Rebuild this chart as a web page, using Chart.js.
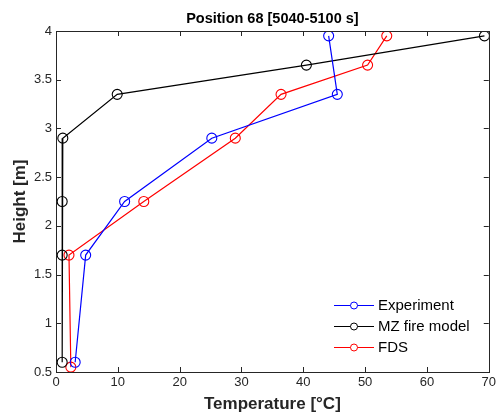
<!DOCTYPE html>
<html>
<head>
<meta charset="utf-8">
<script src="https://cdn.jsdelivr.net/npm/chart.js@4"></script>
<style>
html,body{margin:0;padding:0;background:#fff;}
#c{display:block;}
</style>
</head>
<body>
<canvas id="c" width="499" height="418"></canvas>
<script>
// 数据
var expHeight = [3.95, 3.35, 2.9, 2.25, 1.7, 0.6];
var expTemp   = [44.1, 45.5, 25.2, 11.1, 4.8, 3.1];
var mzHeight  = [3.95, 3.65, 3.35, 2.9, 2.25, 1.7, 0.6];
var mzTemp    = [69.3, 40.5, 9.9, 1.1, 1.0, 1.0, 1.0];
var fdsHeight = [3.95, 3.65, 3.35, 2.9, 2.25, 1.7, 0.55];
var fdsTemp   = [53.5, 50.4, 36.4, 29.0, 14.2, 2.1, 2.4];
var xTicks = [0, 10, 20, 30, 40, 50, 60, 70];
var yTicks = [0.5, 1, 1.5, 2, 2.5, 3, 3.5, 4];
var seriesNames = ['Experiment', 'MZ fire model', 'FDS'];
var seriesColors = ['#0000ff', '#000000', '#ff0000'];

function pts(xs, ys){ return xs.map(function(x,i){ return {x:x, y:ys[i]}; }); }

var AX = '#262626';
var FONT = '"Liberation Sans", Arial, sans-serif';

function ds(i, data){
  return {
    label: seriesNames[i], data: data,
    borderColor: seriesColors[i], backgroundColor: 'rgba(0,0,0,0)',
    pointBackgroundColor: 'rgba(0,0,0,0)', pointBorderColor: seriesColors[i],
    pointRadius: 5, pointBorderWidth: 1.1, borderWidth: 1.2, tension: 0, showLine: true
  };
}

// 内向刻度 + 外框 + 标题 + 图例
var matlabPlugin = {
  id: 'matlab',
  afterDraw: function(chart){
    var c = chart.ctx, a = chart.chartArea;
    var xs = chart.scales.x, ys = chart.scales.y;
    c.save();
    c.strokeStyle = AX; c.lineWidth = 1;
    c.strokeRect(Math.round(a.left)+0.5, Math.round(a.top)+0.5, Math.round(a.right-a.left), Math.round(a.bottom-a.top));
    c.beginPath();
    xTicks.forEach(function(t){
      var px = Math.round(xs.getPixelForValue(t))+0.5;
      c.moveTo(px, a.bottom); c.lineTo(px, a.bottom-5);
      c.moveTo(px, a.top); c.lineTo(px, a.top+5);
    });
    yTicks.forEach(function(t){
      var py = Math.round(ys.getPixelForValue(t))+0.5;
      c.moveTo(a.left, py); c.lineTo(a.left+5, py);
      c.moveTo(a.right, py); c.lineTo(a.right-5, py);
    });
    c.stroke();
    // 标题
    c.fillStyle = '#000';
    c.font = 'bold 14.5px ' + FONT;
    c.textAlign = 'center'; c.textBaseline = 'middle';
    c.fillText('Position 68 [5040-5100 s]', (a.left+a.right)/2, 19);
    // 图例
    c.font = '15px ' + FONT;
    c.textAlign = 'left';
    seriesNames.forEach(function(n,i){
      var y = 305 + i*21;
      c.strokeStyle = seriesColors[i]; c.lineWidth = 1.2;
      c.beginPath(); c.moveTo(334, y+0.5); c.lineTo(374, y+0.5); c.stroke();
      c.lineWidth = 1;
      c.beginPath(); c.arc(354, y+0.5, 3.5, 0, Math.PI*2); c.fillStyle='#fff'; c.fill(); c.stroke();
      c.fillStyle = '#000';
      c.fillText(n, 378, y+1);
    });
    c.restore();
  }
};

new Chart(document.getElementById('c'), {
  type: 'scatter',
  data: { datasets: [ ds(0, pts(expTemp, expHeight)), ds(1, pts(mzTemp, mzHeight)), ds(2, pts(fdsTemp, fdsHeight)) ] },
  options: {
    responsive: false, animation: false, devicePixelRatio: 1,
    layout: { padding: { left: 0, right: 9, top: 31, bottom: 0 } },
    plugins: { legend: { display: false }, tooltip: { enabled: false } },
    scales: {
      x: {
        type: 'linear', min: 0, max: 70,
        afterBuildTicks: function(s){ s.ticks = xTicks.map(function(v){ return {value:v}; }); },
        afterFit: function(s){ s.height = 46; },
        grid: { display: false, drawTicks: false },
        border: { display: false },
        ticks: { color: AX, font: { size: 13, family: FONT }, padding: 3, maxRotation: 0,
          callback: function(v){ return String(v); } },
        title: { display: true, text: 'Temperature [°C]', color: AX, font: { size: 17, weight: 'bold', family: FONT }, padding: { top: 0, bottom: 3 } }
      },
      y: {
        type: 'linear', min: 0.5, max: 4,
        afterBuildTicks: function(s){ s.ticks = yTicks.map(function(v){ return {value:v}; }); },
        afterFit: function(s){ s.width = 56; },
        grid: { display: false, drawTicks: false },
        border: { display: false },
        ticks: { color: AX, font: { size: 13, family: FONT }, padding: 4,
          callback: function(v){ return String(v); } },
        title: { display: true, text: 'Height [m]', color: AX, font: { size: 17, weight: 'bold', family: FONT }, padding: { top: 10, bottom: 0 } }
      }
    }
  },
  plugins: [matlabPlugin]
});
</script>
</body>
</html>
